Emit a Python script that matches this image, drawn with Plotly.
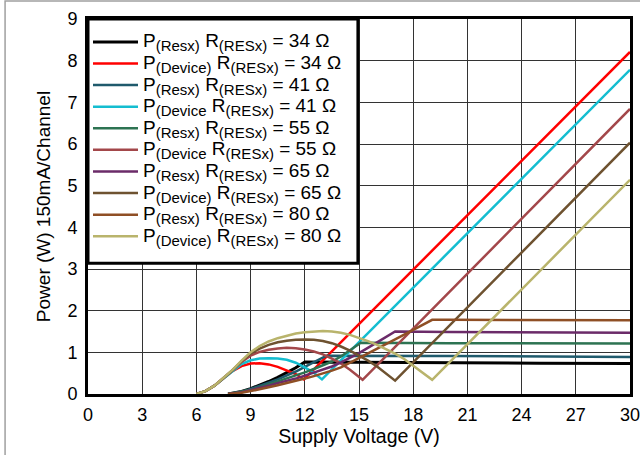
import plotly.graph_objects as go

# ---------------- data ----------------
v_resx_34 = [7.75, 8.5, 9, 9.5, 10, 10.5, 11, 11.5, 12, 15, 20, 25, 30]
p_resx_34 = [0, 0.06, 0.13, 0.21, 0.30, 0.40, 0.51, 0.63, 0.77, 0.76, 0.75, 0.74, 0.73]

v_dev_34 = [6, 6.5, 7, 7.5, 8, 8.5, 9, 9.5, 10, 10.5, 11, 11.5, 11.95, 30]
p_dev_34 = [0, 0.07, 0.20, 0.38, 0.55, 0.67, 0.73, 0.74, 0.71, 0.65, 0.57, 0.48, 0.35, 8.21]

v_resx_41 = [7.75, 8.5, 9, 9.5, 10, 10.5, 11, 11.5, 12, 12.5, 13.2, 20, 25, 30]
p_resx_41 = [0, 0.05, 0.12, 0.19, 0.27, 0.35, 0.44, 0.54, 0.65, 0.76, 0.92, 0.91, 0.90, 0.89]

v_dev_41 = [6, 6.5, 7, 7.5, 8, 8.5, 9, 9.5, 10, 10.5, 11, 11.5, 12, 12.5, 12.95, 30]
p_dev_41 = [0, 0.07, 0.20, 0.38, 0.56, 0.72, 0.81, 0.85, 0.86, 0.85, 0.82, 0.75, 0.64, 0.51, 0.35, 7.78]

v_resx_55 = [7.75, 8.5, 9, 9.5, 10, 10.5, 11, 11.5, 12, 12.5, 13, 13.5, 14, 14.5, 15.1, 20, 25, 30]
p_resx_55 = [0, 0.05, 0.10, 0.16, 0.23, 0.30, 0.37, 0.44, 0.52, 0.60, 0.69, 0.78, 0.90, 1.05, 1.23, 1.22, 1.22, 1.21]

v_dev_55 = [6, 6.5, 7, 7.5, 8, 8.5, 9, 9.5, 10, 10.5, 11, 11.5, 12, 12.5, 13, 13.5, 14, 14.5, 15.2, 30]
p_dev_55 = [0, 0.07, 0.20, 0.38, 0.57, 0.77, 0.92, 1.01, 1.06, 1.09, 1.11, 1.10, 1.07, 1.02, 0.95, 0.85, 0.73, 0.58, 0.34, 6.84]

v_resx_65 = [7.75, 8.5, 9, 9.5, 10, 10.5, 11, 11.5, 12, 12.5, 13, 13.5, 14, 14.5, 15, 16, 17, 20, 25, 30]
p_resx_65 = [0, 0.04, 0.09, 0.14, 0.20, 0.26, 0.31, 0.37, 0.44, 0.51, 0.58, 0.66, 0.76, 0.87, 0.98, 1.24, 1.50, 1.49, 1.48, 1.47]

v_dev_65 = [6, 6.5, 7, 7.5, 8, 8.5, 9, 9.5, 10, 10.5, 11, 11.5, 12, 12.5, 13, 13.5, 14, 14.5, 15, 15.5, 16, 16.5, 17, 30]
p_dev_65 = [0, 0.07, 0.20, 0.38, 0.57, 0.79, 0.97, 1.09, 1.18, 1.24, 1.28, 1.30, 1.31, 1.30, 1.27, 1.22, 1.14, 1.04, 0.93, 0.80, 0.66, 0.50, 0.32, 6.03]

v_resx_80 = [7.75, 8.5, 9, 9.5, 10, 10.5, 11, 11.5, 12, 12.5, 13, 13.5, 14, 14.5, 15, 16, 17, 18, 19.05, 20, 25, 30]
p_resx_80 = [0, 0.03, 0.07, 0.11, 0.16, 0.21, 0.26, 0.31, 0.37, 0.43, 0.49, 0.56, 0.64, 0.75, 0.86, 1.08, 1.31, 1.54, 1.78, 1.78, 1.77, 1.77]

v_dev_80 = [6, 6.5, 7, 7.5, 8, 8.5, 9, 9.5, 10, 10.5, 11, 11.5, 12, 12.5, 13, 13.5, 14, 14.5, 15, 15.5, 16, 16.5, 17, 17.5, 18, 18.5, 19.05, 30]
p_dev_80 = [0, 0.07, 0.20, 0.38, 0.58, 0.80, 1.00, 1.15, 1.26, 1.34, 1.40, 1.45, 1.48, 1.50, 1.51, 1.50, 1.47, 1.42, 1.35, 1.27, 1.18, 1.08, 0.97, 0.84, 0.68, 0.52, 0.34, 5.14]

# legend label parts
label_p_sub = ["(Resx)", "(Device)", "(Resx)", "(Device", "(Resx)",
               "(Device", "(Resx)", "(Device)", "(Resx)", "(Device)"]
label_r_sub = "(RESx)"
label_values = ["34", "34", "41", "41", "55", "55", "65", "65", "80", "80"]
x_ticks = [0, 3, 6, 9, 12, 15, 18, 21, 24, 27, 30]
y_ticks = [0, 1, 2, 3, 4, 5, 6, 7, 8, 9]

# ---------------- styling ----------------
colors = ["#000000", "#ff0000", "#1f5a6c", "#14bdd0", "#2d7352",
          "#a3474a", "#6b2b69", "#6e5230", "#8f4f25", "#b9b46c"]
widths = [3, 2.5, 2.5, 2.5, 2.5, 2.5, 2.5, 2.5, 2.5, 2.5]

xs = [v_resx_34, v_dev_34, v_resx_41, v_dev_41, v_resx_55,
      v_dev_55, v_resx_65, v_dev_65, v_resx_80, v_dev_80]
ys = [p_resx_34, p_dev_34, p_resx_41, p_dev_41, p_resx_55,
      p_dev_55, p_resx_65, p_dev_65, p_resx_80, p_dev_80]

FONT = "Arial, Liberation Sans, Arimo, sans-serif"
MAIN = 'font-size:19px'
SUB = 'font-size:15px'


def legend_label(psub, val):
    return (f'<span style="{MAIN}">P<sub><span style="{SUB}">{psub}</span></sub> '
            f'R<sub><span style="{SUB}">{label_r_sub}</span></sub> = {val} Ω</span>')


fig = go.Figure()
for psub, val, x, y, c, w in zip(label_p_sub, label_values, xs, ys, colors, widths):
    fig.add_trace(go.Scatter(x=x, y=y, mode="lines", name=legend_label(psub, val),
                             line=dict(color=c, width=w)))

fig.update_layout(
    width=640, height=455,
    margin=dict(l=88, r=10, t=19, b=61),
    paper_bgcolor="white", plot_bgcolor="white",
    font=dict(family=FONT, size=18, color="black"),
    showlegend=True,
    legend=dict(x=0, y=0.981, xanchor="left", yanchor="top",
                bgcolor="rgba(0,0,0,0)", borderwidth=0,
                font=dict(family=FONT, size=14.3, color="black"),
                tracegroupgap=0, itemwidth=45),
    shapes=[
        # outer light-grey frame of the picture
        dict(type="rect", xref="paper", yref="paper",
             x0=-0.153, x1=1.05, y0=-0.2, y1=1.048,
             line=dict(color="#a0a0a0", width=1.5), layer="below"),
        # legend box
        dict(type="rect", xref="paper", yref="paper",
             x0=0, x1=0.498, y0=0.349, y1=1,
             fillcolor="white", line=dict(color="black", width=3), layer="above"),
    ],
)
fig.update_xaxes(range=[0, 30], tickmode="array", tickvals=x_ticks,
                 showgrid=True, gridcolor="#333333", gridwidth=1,
                 showline=True, linecolor="black", linewidth=3, mirror=True,
                 zeroline=False, ticks="", automargin=False,
                 ticklabeloverflow="allow",
                 tickfont=dict(size=18), ticklabelstandoff=2,
                 title=dict(text="Supply Voltage (V)", font=dict(size=19.5), standoff=6))
fig.update_yaxes(range=[0, 9], tickmode="array", tickvals=y_ticks,
                 showgrid=True, gridcolor="#333333", gridwidth=1,
                 showline=True, linecolor="black", linewidth=3, mirror=True,
                 zeroline=False, ticks="", automargin=False,
                 ticklabeloverflow="allow",
                 tickfont=dict(size=18), ticklabelstandoff=4,
                 title=dict(text="Power (W) 150mA/Channel", font=dict(size=19), standoff=12))

fig.write_html("out.html", config={"displayModeBar": False},
               post_script="document.body.style.margin='0';document.body.style.overflow='hidden';")
